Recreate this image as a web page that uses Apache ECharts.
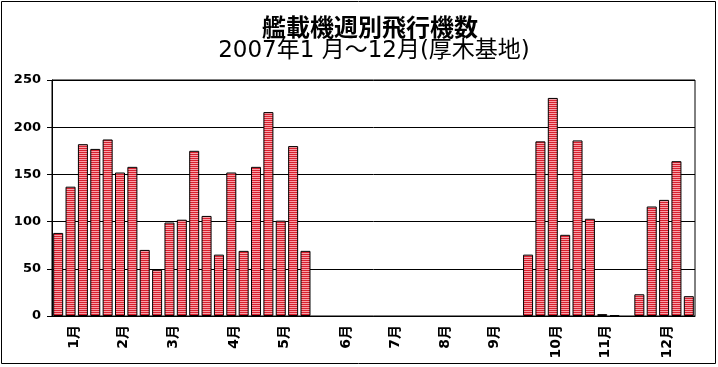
<!DOCTYPE html>
<html><head><meta charset="utf-8">
<script src="https://cdn.jsdelivr.net/npm/echarts@6/dist/echarts.min.js"></script>
<style>html,body{margin:0;padding:0;background:#fff}#c{width:718px;height:367px}</style>
</head><body><div id="c"></div>
<script>
var titleText = '艦載機週別飛行機数';
var subtitleText = '2007年1 月～12月(厚木基地)';
var monthLabels = ['1月','2月','3月','4月','5月','6月','7月','8月','9月','10月','11月','12月'];
var monthWeekIndex = [1,5,9,14,18,23,27,31,35,40,44,49];
var flights = [88,137,182,177,187,152,158,70,49,99,102,175,106,65,152,69,158,216,101,180,69,
  null,null,null,null,null,null,null,null,null,null,null,null,null,null,null,null,null,
  65,185,231,86,186,103,2,1,null,23,116,123,164,21];
var yTicks = {min:0,max:250,interval:50};

var weeks = [];
for (var i=0;i<flights.length;i++){
  var k = monthWeekIndex.indexOf(i);
  weeks.push(k>=0 ? monthLabels[k] : '');
}
var cv = document.createElement('canvas');
cv.width = 4; cv.height = 2;
var cx = cv.getContext('2d');
cx.fillStyle = '#d8202e'; cx.fillRect(0,0,4,1);
cx.fillStyle = '#f8a0a8'; cx.fillRect(0,1,4,1);

var chart = echarts.init(document.getElementById('c'));
chart.setOption({
  animation:false,
  title:[{text:titleText,left:365,textAlign:'center',top:10,textStyle:{fontFamily:'Noto Sans CJK JP',fontSize:24,fontWeight:'bold',color:'#000'}},
         {text:subtitleText,left:369,textAlign:'center',top:35,textStyle:{fontFamily:'DejaVu Sans, Noto Sans CJK JP',fontSize:23,fontWeight:'normal',color:'#000'}}],
  graphic:[{type:'rect',shape:{x:1.5,y:1.5,width:714,height:362},style:{fill:'none',stroke:'#000',lineWidth:1},silent:true}],
  grid:{left:52,right:23,top:80,bottom:51,show:true,borderColor:'#000',borderWidth:1},
  xAxis:{type:'category',data:weeks,
    axisLine:{lineStyle:{color:'#000',width:1}},axisTick:{show:false},
    axisLabel:{interval:0,rotate:90,margin:9,verticalAlign:'top',lineHeight:7,color:'#000',fontFamily:'DejaVu Sans, Noto Sans CJK JP',fontWeight:'bold',fontSize:14}},
  yAxis:{type:'value',min:yTicks.min,max:yTicks.max,interval:yTicks.interval,
    axisLine:{show:true,lineStyle:{color:'#000',width:1}},
    axisTick:{show:true,length:5,lineStyle:{color:'#000'}},
    splitLine:{lineStyle:{color:'#000',width:1}},
    axisLabel:{margin:11,color:'#000',fontFamily:'DejaVu Sans',fontWeight:'bold',fontSize:13}},
  series:[{type:'bar',data:flights,barWidth:10,
    itemStyle:{color:{image:cv,repeat:'repeat'},borderColor:'#000',borderWidth:1}}]
});
</script></body></html>
